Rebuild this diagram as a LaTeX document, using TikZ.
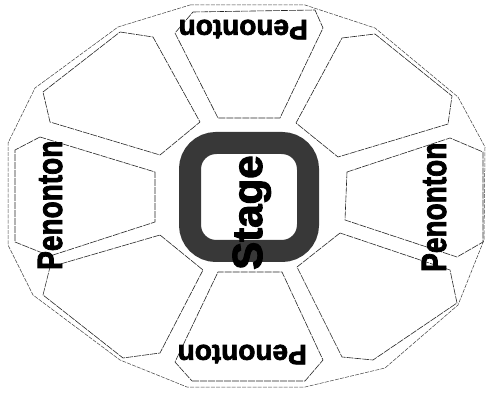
\documentclass[tikz,border=0pt]{standalone}
\usepackage{fontspec}
\setmainfont{Liberation Sans}[BoldFeatures={FakeBold=2.5}]
\begin{document}
\begin{tikzpicture}[x=1pt,y=-1pt,
  seg/.style={draw=black!85, line width=0.6pt, dash pattern=on 7pt off 1pt, line join=round},
  outerline/.style={draw=black!75, line width=0.5pt, dash pattern=on 4pt off 1.2pt, line join=round},
  lab/.style={font=\bfseries\fontsize{28}{28}\selectfont, inner sep=0pt},
  ring/.style={draw=black!78, line width=22pt, rounded corners=26pt}]
\useasboundingbox (0,0) rectangle (490,395);
% outer polygon
\draw[outerline] (190,5) -- (305,5) -- (375,28) -- (458,97) -- (485,147) -- (484,240) -- (458,305) -- (385,368) -- (305,387) -- (187,387) -- (120,360) -- (33,295) -- (8,245) -- (8,143) -- (35,88) -- (118,27) -- cycle;
% segments
\draw[seg] (193,12) -- (315,10) -- (323,28) -- (280,118) -- (218,118) -- (175,33) -- cycle; % top
\draw[seg] (192,381) -- (305,381) -- (323,360) -- (282,272) -- (218,272) -- (175,362) -- cycle; % bottom
\draw[seg] (40,137) -- (15,150) -- (15,242) -- (50,256) -- (155,222) -- (155,172) -- cycle; % left
\draw[seg] (347,172) -- (450,138) -- (483,152) -- (483,242) -- (457,257) -- (345,220) -- cycle; % right
\draw[seg] (120,32) -- (153,37) -- (200,122) -- (160,155) -- (50,122) -- (43,92) -- cycle; % top-left
\draw[seg] (342,38) -- (375,34) -- (452,96) -- (448,124) -- (338,157) -- (296,123) -- cycle; % top-right
\draw[seg] (160,235) -- (203,270) -- (160,353) -- (123,358) -- (43,295) -- (50,267) -- cycle; % bottom-left
\draw[seg] (340,233) -- (297,267) -- (342,357) -- (373,360) -- (457,303) -- (450,270) -- cycle; % bottom-right
% stage
\draw[ring] (190,143) rectangle (308,251);
\node[rotate=90, anchor=base west, inner sep=0pt, font=\bfseries\fontsize{42}{42}\selectfont] (stage) at (262,270) {Stage};
% labels
\node[lab, rotate=180, anchor=base west] (ptop) at (308,20) {Penonton};
\node[lab, rotate=180, anchor=base west] (pbot) at (307,345) {Penonton};
\node[lab, rotate=90, anchor=base west] (pleft) at (62,270) {\scalebox{1}[1.25]{Penonton}};
\node[lab, rotate=90, anchor=base west] (pright) at (446,272) {\scalebox{1}[1.25]{Penonton}};
\end{tikzpicture}
\end{document}
